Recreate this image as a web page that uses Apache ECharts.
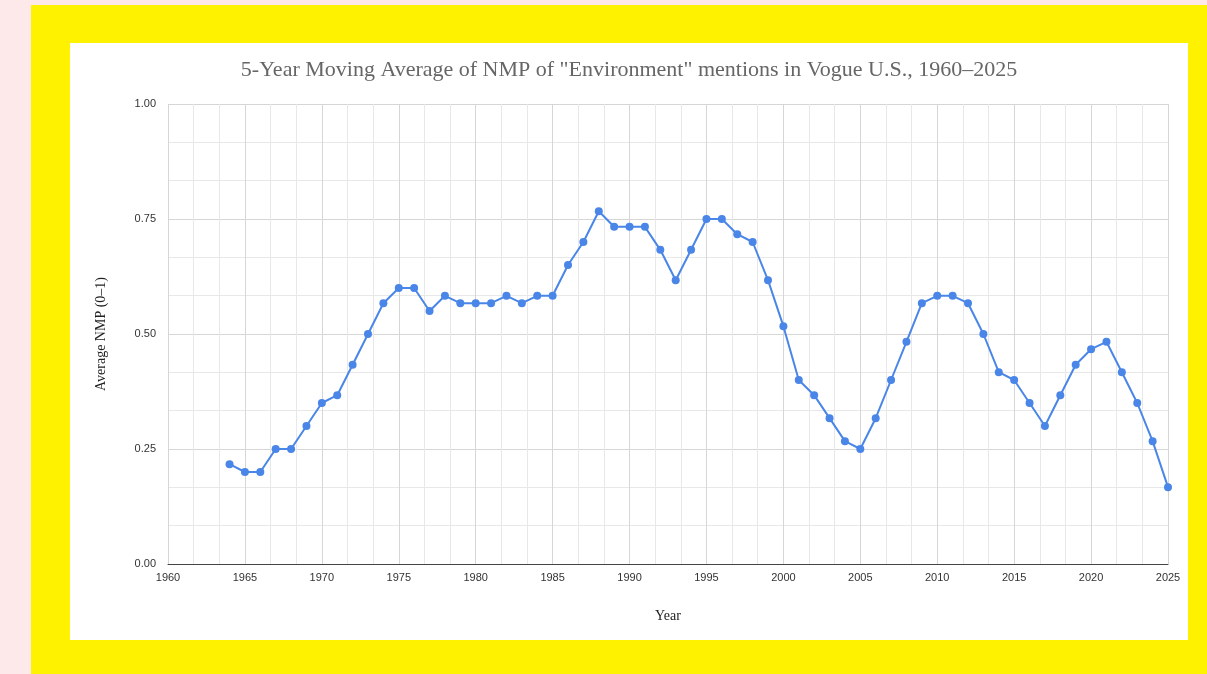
<!DOCTYPE html>
<html>
<head>
<meta charset="utf-8">
<script src="https://cdn.jsdelivr.net/npm/echarts@6/dist/echarts.min.js"></script>
<style>
  html, body { margin: 0; padding: 0; }
  body { width: 1207px; height: 674px; background: #fde8ea; position: relative; overflow: hidden; }
  #frame { position: absolute; left: 31px; top: 5px; width: 1176px; height: 669px; background: #fff200; }
  #chart { position: absolute; left: 70px; top: 43px; width: 1118px; height: 597px; background: #ffffff; }
</style>
</head>
<body>
<div id="frame"></div>
<div id="chart"></div>
<script>
// years 1964..2025
var years = [1964, 1965, 1966, 1967, 1968, 1969, 1970, 1971, 1972, 1973,
  1974, 1975, 1976, 1977, 1978, 1979, 1980, 1981, 1982, 1983,
  1984, 1985, 1986, 1987, 1988, 1989, 1990, 1991, 1992, 1993,
  1994, 1995, 1996, 1997, 1998, 1999, 2000, 2001, 2002, 2003,
  2004, 2005, 2006, 2007, 2008, 2009, 2010, 2011, 2012, 2013,
  2014, 2015, 2016, 2017, 2018, 2019, 2020, 2021, 2022, 2023,
  2024, 2025];
var avgNmp = [0.217, 0.200, 0.200, 0.250, 0.250, 0.300, 0.350, 0.367, 0.433, 0.500,
  0.567, 0.600, 0.600, 0.550, 0.583, 0.567, 0.567, 0.567, 0.583, 0.567,
  0.583, 0.583, 0.650, 0.700, 0.767, 0.733, 0.733, 0.733, 0.683, 0.617,
  0.683, 0.750, 0.750, 0.717, 0.700, 0.617, 0.517, 0.400, 0.367, 0.317,
  0.267, 0.250, 0.317, 0.400, 0.483, 0.567, 0.583, 0.583, 0.567, 0.500,
  0.417, 0.400, 0.350, 0.300, 0.367, 0.433, 0.467, 0.483, 0.417, 0.350,
  0.267, 0.167];
var titleText = '5-Year Moving Average of NMP of "Environment" mentions in Vogue U.S., 1960\u20132025';

var myChart = echarts.init(document.getElementById('chart'));
var option = {
  animation: false,
  title: {
    text: titleText,
    left: 'center',
    top: 11,
    textStyle: { fontFamily: 'Liberation Serif', fontWeight: 'normal', fontSize: 22, color: '#666666' }
  },
  grid: { left: 98, right: 20, top: 61, bottom: 76 },
  xAxis: {
    type: 'value',
    min: 1960,
    max: 2025,
    interval: 5,
    name: 'Year',
    nameLocation: 'middle',
    nameGap: 45,
    nameTextStyle: { fontFamily: 'Liberation Serif', fontSize: 14, color: '#222222' },
    axisLine: { show: true, lineStyle: { color: '#444444', width: 1 } },
    axisTick: { show: false },
    axisLabel: {
      fontFamily: 'Liberation Sans', fontSize: 11, color: '#333333', margin: 8,
      formatter: function (v) { return String(v); }
    },
    splitLine: { show: true, lineStyle: { color: '#d6d6d6' } },
    minorTick: { show: false, splitNumber: 3 },
    minorSplitLine: { show: true, lineStyle: { color: '#e8e8e8' } }
  },
  yAxis: {
    type: 'value',
    min: 0,
    max: 1,
    interval: 0.25,
    name: 'Average NMP (0\u20131)',
    nameLocation: 'middle',
    nameGap: 60,
    nameTextStyle: { fontFamily: 'Liberation Serif', fontSize: 14, color: '#222222' },
    axisLine: { show: false },
    axisTick: { show: false },
    axisLabel: {
      fontFamily: 'Liberation Sans', fontSize: 11, color: '#333333', margin: 12,
      formatter: function (v) { return v.toFixed(2); }
    },
    splitLine: { show: true, lineStyle: { color: '#d6d6d6' } },
    minorTick: { show: false, splitNumber: 3 },
    minorSplitLine: { show: true, lineStyle: { color: '#e8e8e8' } }
  },
  series: [
    {
      name: 'Average NMP',
      type: 'line',
      data: years.map(function (y, i) { return [y, avgNmp[i]]; }),
      symbol: 'circle',
      symbolSize: 8,
      lineStyle: { color: '#4a86e8', width: 2 },
      itemStyle: { color: '#4a86e8' }
    }
  ]
};
myChart.setOption(option);
</script>
</body>
</html>
